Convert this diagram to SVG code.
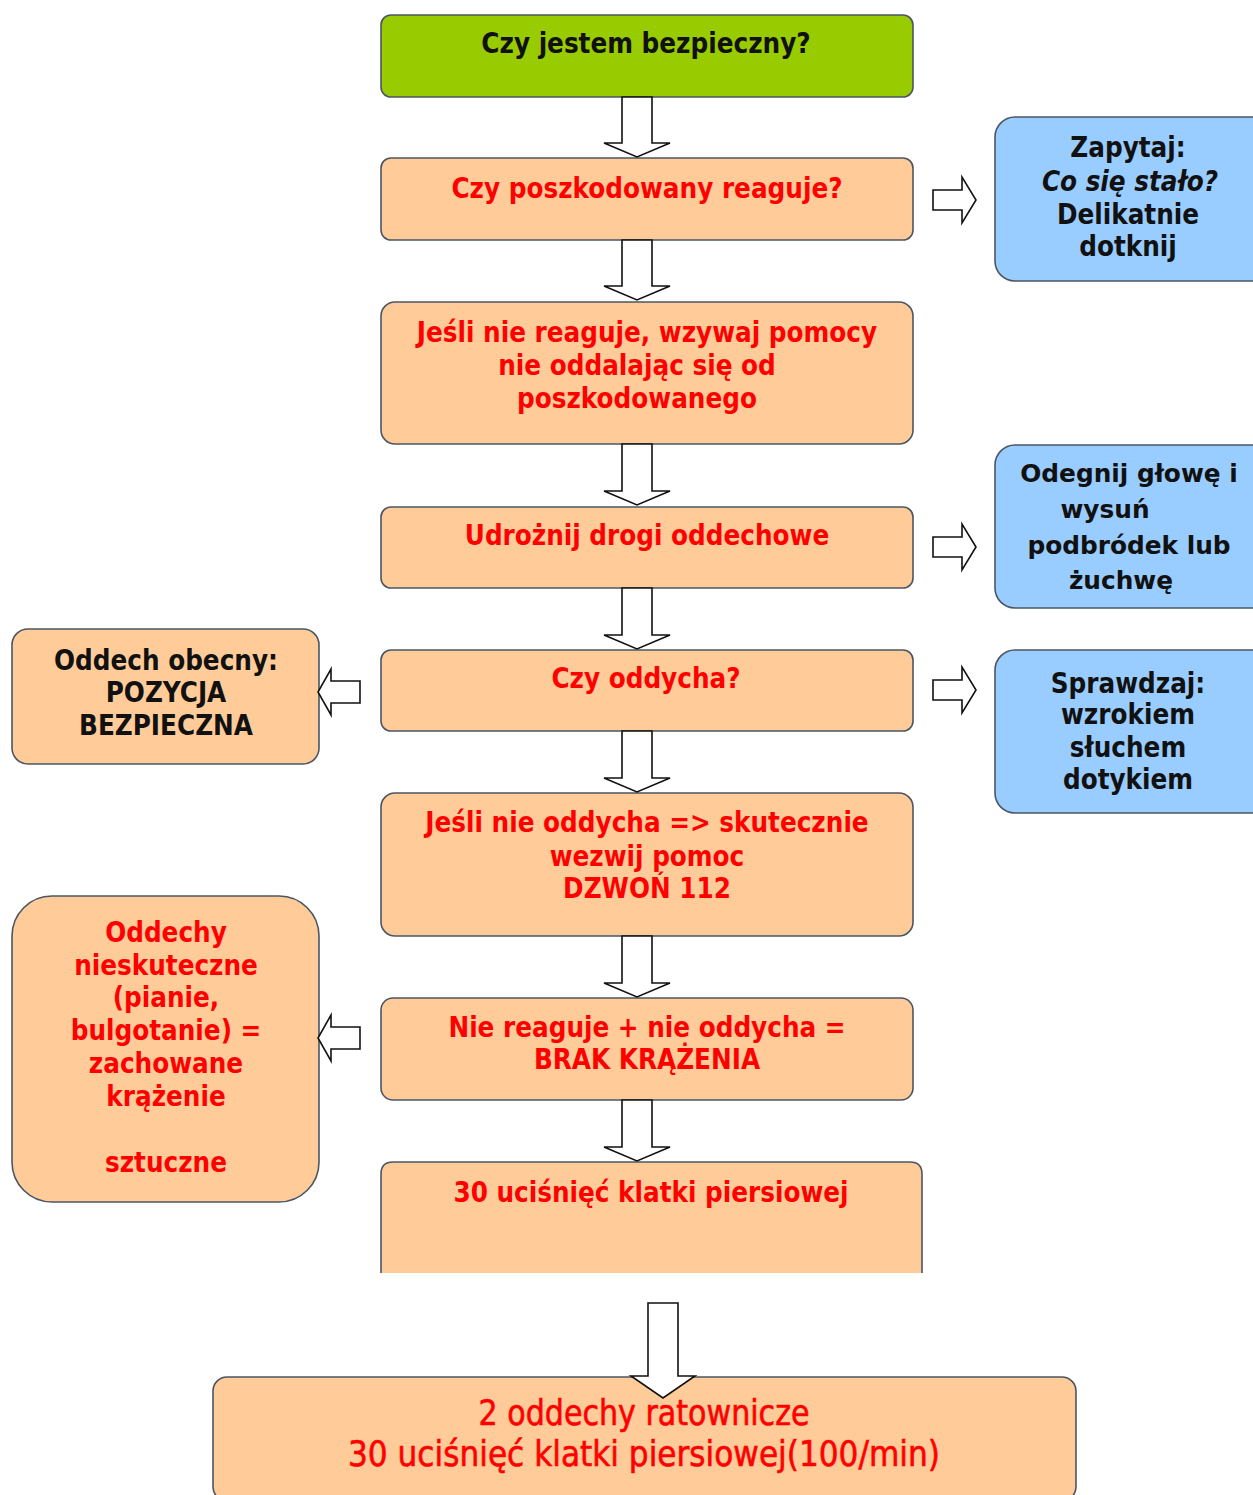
<svg xmlns="http://www.w3.org/2000/svg" width="1253" height="1495" viewBox="0 0 1253 1495">
<style>
.box{stroke:#4b5563;stroke-width:1.6}
.or{fill:#ffcc99}
.bl{fill:#99ccff}
.gr{fill:#99cc00}
.t{font-family:"DejaVu Sans Condensed","DejaVu Sans",sans-serif;font-weight:bold;font-size:27.5px;text-anchor:middle}
.red{fill:#ff0000}
.blk{fill:#111111}
.v{font-family:"DejaVu Sans",sans-serif;font-weight:bold;font-size:24.8px;text-anchor:middle;fill:#111111}
.big{font-family:"DejaVu Sans Condensed","DejaVu Sans",sans-serif;font-size:36px;text-anchor:middle;fill:#ff0000;stroke:#ff0000;stroke-width:0.6}
.arr{fill:#ffffff;stroke:#111111;stroke-width:1.6;stroke-linejoin:miter}
</style>
<rect width="1253" height="1495" fill="#ffffff"/>
<g id="n-safe">
<rect class="box gr" x="381" y="15" width="532" height="82" rx="10"/>
<text class="t blk" x="646" y="53">Czy jestem bezpieczny?</text>
</g>
<g id="n-reacts">
<rect class="box or" x="381" y="158" width="532" height="82" rx="10"/>
<text class="t red" x="647" y="198">Czy poszkodowany reaguje?</text>
</g>
<g id="n-call">
<rect class="box or" x="381" y="302" width="532" height="142" rx="14"/>
<text class="t red" x="647" y="342">Jeśli nie reaguje, wzywaj pomocy</text>
<text class="t red" x="637" y="375">nie oddalając się od</text>
<text class="t red" x="637" y="408">poszkodowanego</text>
</g>
<g id="n-airway">
<rect class="box or" x="381" y="507" width="532" height="81" rx="10"/>
<text class="t red" x="647" y="545">Udrożnij drogi oddechowe</text>
</g>
<g id="n-breathes">
<rect class="box or" x="381" y="650" width="532" height="81" rx="10"/>
<text class="t red" x="646" y="688">Czy oddycha?</text>
</g>
<g id="n-nobreath">
<rect class="box or" x="381" y="793" width="532" height="143" rx="14"/>
<text class="t red" x="647" y="832">Jeśli nie oddycha =&gt; skutecznie</text>
<text class="t red" x="647" y="866">wezwij pomoc</text>
<text class="t red" x="647" y="898">DZWOŃ 112</text>
</g>
<g id="n-nocirc">
<rect class="box or" x="381" y="998" width="532" height="102" rx="12"/>
<text class="t red" x="647" y="1037">Nie reaguje + nie oddycha =</text>
<text class="t red" x="647" y="1069">BRAK KRĄŻENIA</text>
</g>
<g id="n-30">
<path class="box or" d="M381,1273 V1174 Q381,1162 393,1162 H910 Q922,1162 922,1174 V1273"/>
<text class="t red" x="651" y="1202">30 uciśnięć klatki piersiowej</text>
</g>
<g id="n-cpr">
<rect class="box or" x="213" y="1377" width="863" height="124" rx="14"/>
<text class="big" x="644" y="1425" textLength="331" lengthAdjust="spacingAndGlyphs">2 oddechy ratownicze</text>
<text class="big" x="644" y="1466" textLength="592" lengthAdjust="spacingAndGlyphs">30 uciśnięć klatki piersiowej(100/min)</text>
</g>
<g id="n-ask">
<rect class="box bl" x="995" y="117" width="280" height="164" rx="20"/>
<text class="t blk" x="1128" y="157">Zapytaj:</text>
<text class="t blk" x="1130" y="191" font-style="italic" font-weight="normal">Co się stało?</text>
<text class="t blk" x="1128" y="224">Delikatnie</text>
<text class="t blk" x="1128" y="256">dotknij</text>
</g>
<g id="n-tilt">
<rect class="box bl" x="995" y="445" width="280" height="163" rx="20"/>
<text class="v" x="1129" y="482">Odegnij głowę i</text>
<text class="v" x="1105" y="518">wysuń</text>
<text class="v" x="1129" y="554">podbródek lub</text>
<text class="v" x="1121" y="589">żuchwę</text>
</g>
<g id="n-check">
<rect class="box bl" x="995" y="650" width="280" height="163" rx="20"/>
<text class="t blk" x="1128" y="693">Sprawdzaj:</text>
<text class="t blk" x="1128" y="724">wzrokiem</text>
<text class="t blk" x="1128" y="757">słuchem</text>
<text class="t blk" x="1128" y="789">dotykiem</text>
</g>
<g id="n-recovery">
<rect class="box or" x="12" y="629" width="307" height="135" rx="16"/>
<text class="t blk" x="166" y="670">Oddech obecny:</text>
<text class="t blk" x="166" y="702">POZYCJA</text>
<text class="t blk" x="166" y="735">BEZPIECZNA</text>
</g>
<g id="n-ineffective">
<rect class="box or" x="12" y="896" width="307" height="306" rx="40"/>
<text class="t red" x="166" y="942">Oddechy</text>
<text class="t red" x="166" y="975">nieskuteczne</text>
<text class="t red" x="166" y="1007">(pianie,</text>
<text class="t red" x="166" y="1040">bulgotanie) =</text>
<text class="t red" x="166" y="1073">zachowane</text>
<text class="t red" x="166" y="1106">krążenie</text>
<text class="t red" x="166" y="1172">sztuczne</text>
</g>
<g id="connectors">
<polygon class="arr" points="622,97 652,97 652,143 670,143 637,157 604,143 622,143"/>
<polygon class="arr" points="622,240 652,240 652,286 670,286 637,300 604,286 622,286"/>
<polygon class="arr" points="622,444 652,444 652,491 670,491 637,505 604,491 622,491"/>
<polygon class="arr" points="622,588 652,588 652,635 670,635 637,649 604,635 622,635"/>
<polygon class="arr" points="622,731 652,731 652,778 670,778 637,792 604,778 622,778"/>
<polygon class="arr" points="622,936 652,936 652,983 670,983 637,997 604,983 622,983"/>
<polygon class="arr" points="622,1100 652,1100 652,1147 670,1147 637,1161 604,1147 622,1147"/>
<polygon class="arr" points="648,1303 678,1303 678,1376 695,1376 663,1398 631,1376 648,1376"/>
<polygon class="arr" points="933,190 962,190 962,177 976,200 962,223 962,210 933,210"/>
<polygon class="arr" points="933,537 962,537 962,524 976,547 962,570 962,557 933,557"/>
<polygon class="arr" points="933,680 962,680 962,667 976,690 962,713 962,700 933,700"/>
<polygon class="arr" points="360,681 331,681 331,669 318,692 331,715 331,703 360,703"/>
<polygon class="arr" points="360,1027 331,1027 331,1015 318,1038 331,1061 331,1049 360,1049"/>
</g>
</svg>
